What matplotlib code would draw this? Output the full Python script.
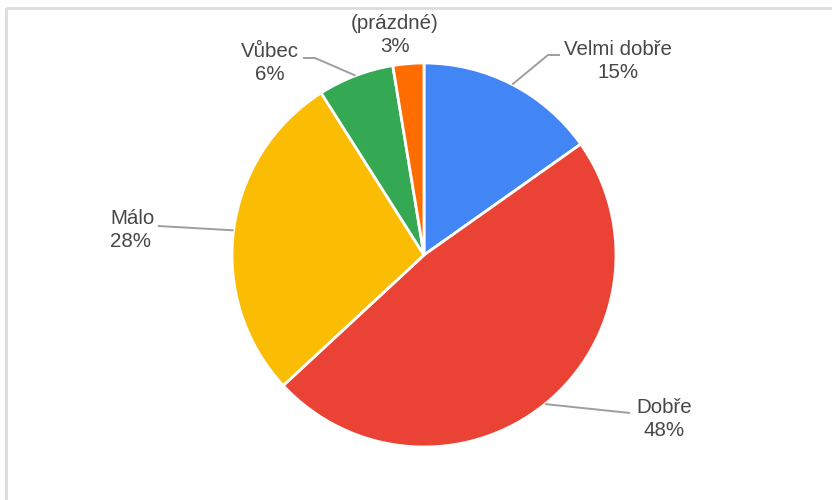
import numpy as np
import matplotlib
matplotlib.use("Agg")
import matplotlib.pyplot as plt

# ---- data ----
categories = ["Velmi dobře", "Dobře", "Málo", "Vůbec", "(prázdné)"]
values = [15.2, 47.9, 27.9, 6.4, 2.6]
colors = ["#4285F4", "#EA4335", "#FBBC04", "#34A853", "#FF6D01"]

# ---- layout (pixel coordinates, y measured from top) ----
W, H = 832, 500
cx, cy, R = 424, 255, 192
label_pos = {
    "Velmi dobře": (618, 61, "center"),
    "Dobře": (664, 419, "center"),
    "Málo": (110, 230, "left"),
    "Vůbec": (270, 63, "center"),
    "(prázdné)": (395, 35, "center"),
}
leader_path = {
    "Velmi dobře": [(548, 55), (560, 55)],
    "Dobře": [(630, 413)],
    "Málo": [(158, 226)],
    "Vůbec": [(315, 58), (303, 58)],
    "(prázdné)": None,
}

plt.rcParams['font.family'] = ['Liberation Sans', 'DejaVu Sans']
fig = plt.figure(figsize=(W / 100, H / 100), dpi=100)
ax = fig.add_axes([0, 0, 1, 1])

def fy(y):
    return H - y

wedges, _ = ax.pie(values, colors=colors, startangle=90, counterclock=False,
                   center=(cx, fy(cy)), radius=R,
                   wedgeprops=dict(edgecolor='white', linewidth=2))

ax.set_aspect('equal')
ax.axis('off')

# frame lines
ax.plot([6, 6], [fy(8), fy(H + 5)], color="#dadce0", lw=2, solid_capstyle='butt')
ax.plot([6, W + 5], [fy(8), fy(8)], color="#dadce0", lw=2, solid_capstyle='butt')

total = sum(values)
cum = 0
for cat, v in zip(categories, values):
    mid = (cum + v / 2) / total * 2 * np.pi
    cum += v
    ex = cx + R * np.sin(mid)
    ey = cy - R * np.cos(mid)
    path = leader_path[cat]
    if path:
        xs = [ex] + [p[0] for p in path]
        ys = [fy(ey)] + [fy(p[1]) for p in path]
        ax.plot(xs, ys, color="#9e9e9e", lw=1.4, solid_capstyle='butt')
    lx, ly, ha = label_pos[cat]
    pct = f"{v / total * 100:.0f}%"
    ax.text(lx, fy(ly), f"{cat}\n{pct}", ha=ha, va='center', multialignment=ha,
            fontsize=14.8, color="#474747", linespacing=1.28)

ax.set_xlim(0, W)
ax.set_ylim(0, H)
fig.savefig("out.png", dpi=100)
